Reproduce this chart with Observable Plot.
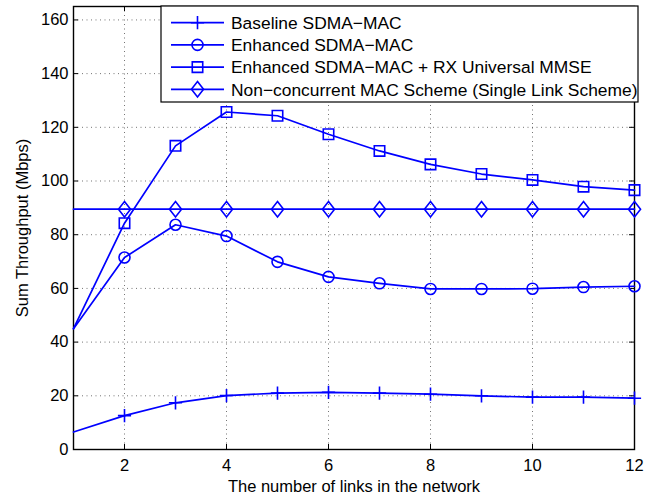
<!DOCTYPE html>
<html><head><meta charset="utf-8">
<script src="https://cdn.jsdelivr.net/npm/d3@7"></script>
<script src="https://cdn.jsdelivr.net/npm/@observablehq/plot@0.6"></script>
<style>
body{margin:0;background:#fff}
#chart svg{font-family:"Liberation Sans",Arial,Helvetica,sans-serif;overflow:visible}
</style>
</head><body><div id="chart"></div>
<script>
// ---- data ----
const links = [1, 2, 3, 4, 5, 6, 7, 8, 9, 10, 11, 12];
const baseline = [6.5, 12.6, 17.4, 20.1, 21.0, 21.3, 21.0, 20.6, 20.0, 19.5, 19.5, 19.1];
const enhanced = [45, 71.5, 83.7, 79.5, 69.9, 64.3, 61.9, 59.8, 59.8, 59.9, 60.5, 60.8];
const enhancedMmse = [45, 84.3, 113.1, 125.7, 124.3, 117.4, 111.2, 106.2, 102.6, 100.4, 97.9, 96.6];
const singleLink = [89.5, 89.5, 89.5, 89.5, 89.5, 89.5, 89.5, 89.5, 89.5, 89.5, 89.5, 89.5];
const seriesNames = [
  "Baseline SDMA\u2212MAC",
  "Enhanced SDMA\u2212MAC",
  "Enhanced SDMA\u2212MAC + RX Universal MMSE",
  "Non\u2212concurrent MAC Scheme (Single Link Scheme)"
];
const xTicks = [2, 4, 6, 8, 10, 12];
const yTicks = [0, 20, 40, 60, 80, 100, 120, 140, 160];
const xLabel = "The number of links in the network";
const yLabel = "Sum Throughput (Mbps)";

// ---- symbols ----
const rad = s => Math.sqrt(s / Math.PI);
const plusSym = {draw(c, s){ const a = rad(s)*1.2; c.moveTo(-a,0); c.lineTo(a,0); c.moveTo(0,-a); c.lineTo(0,a); }};
const circleSym = {draw(c, s){ const r = rad(s); c.moveTo(r,0); c.arc(0,0,r,0,2*Math.PI); c.closePath(); }};
const squareSym = {draw(c, s){ const h = rad(s)*0.95; c.rect(-h,-h,2*h,2*h); }};
const diamondSym = {draw(c, s){ const w = rad(s)*1.1, h = rad(s)*1.4; c.moveTo(0,-h); c.lineTo(w,0); c.lineTo(0,h); c.lineTo(-w,0); c.closePath(); }};
const symbols = [plusSym, circleSym, squareSym, diamondSym];
const allSeries = [baseline, enhanced, enhancedMmse, singleLink];

const rows = [];
allSeries.forEach((vals, i) => links.forEach((x, j) => rows.push({series: seriesNames[i], idx: i, x, y: vals[j]})));

const W = 667, H = 498, mL = 73, mR = 33, mT = 6, mB = 49;
const innerW = W - mL - mR, innerH = H - mT - mB;
const blue = "#0000ff";

const marks = [
  Plot.gridX(xTicks, {stroke: "#000", strokeOpacity: 0.55, strokeDasharray: "1,3.5"}),
  Plot.gridY(yTicks, {stroke: "#000", strokeOpacity: 0.55, strokeDasharray: "1,3.5"}),
  Plot.tickX(xTicks, {x: d => d, insetTop: innerH - 5, stroke: "#000"}),
  Plot.tickX(xTicks, {x: d => d, insetBottom: innerH - 5, stroke: "#000"}),
  Plot.tickY(yTicks, {y: d => d, insetRight: innerW - 5, stroke: "#000"}),
  Plot.tickY(yTicks, {y: d => d, insetLeft: innerW - 5, stroke: "#000"}),
  Plot.frame({stroke: "#000", strokeWidth: 1.4}),
  Plot.axisX({ticks: xTicks, tickSize: 0, tickPadding: 10, label: xLabel, labelAnchor: "center", labelArrow: "none", labelOffset: 42}),
  Plot.axisY({ticks: yTicks, tickSize: 0, tickPadding: 5, label: yLabel, labelAnchor: "center", labelArrow: "none", labelOffset: 57}),
  Plot.line(rows, {x: "x", y: "y", z: "series", stroke: blue, strokeWidth: 1.7})
];
symbols.forEach((sym, i) => {
  marks.push(Plot.dot(rows.filter(d => d.idx === i && d.x >= 2), {x: "x", y: "y", symbol: sym, r: 5.5, stroke: blue, fill: "none", strokeWidth: 1.6}));
});

const chart = Plot.plot({
  width: W, height: H, marginLeft: mL, marginRight: mR, marginTop: mT, marginBottom: mB,
  style: {fontSize: "16.5px", color: "#000", background: "#fff", fontFamily: "'Liberation Sans', Arial, sans-serif"},
  x: {domain: [1, 12]},
  y: {domain: [0, 165]},
  marks
});
document.getElementById("chart").appendChild(chart);

// ---- legend (inside the axes, like the original) ----
const svg = d3.select(chart);
const lg = svg.append("g").attr("transform", "translate(161,6)");
lg.append("rect").attr("width", 477).attr("height", 96).attr("fill", "#fff").attr("stroke", "#000").attr("stroke-width", 1.2);
seriesNames.forEach((name, i) => {
  const y = 16.7 + i * 22.2;
  lg.append("line").attr("x1", 10).attr("x2", 63).attr("y1", y).attr("y2", y).attr("stroke", blue).attr("stroke-width", 1.7);
  const p = d3.path();
  symbols[i].draw(p, Math.PI * 5.5 * 5.5);
  lg.append("path").attr("d", p.toString()).attr("transform", `translate(36.5,${y})`).attr("fill", "none").attr("stroke", blue).attr("stroke-width", 1.6);
  lg.append("text").attr("x", 70).attr("y", y).attr("dy", "0.36em").attr("text-anchor", "start").attr("font-size", "17.4px").attr("fill", "#000").text(name);
});
</script>
</body></html>
